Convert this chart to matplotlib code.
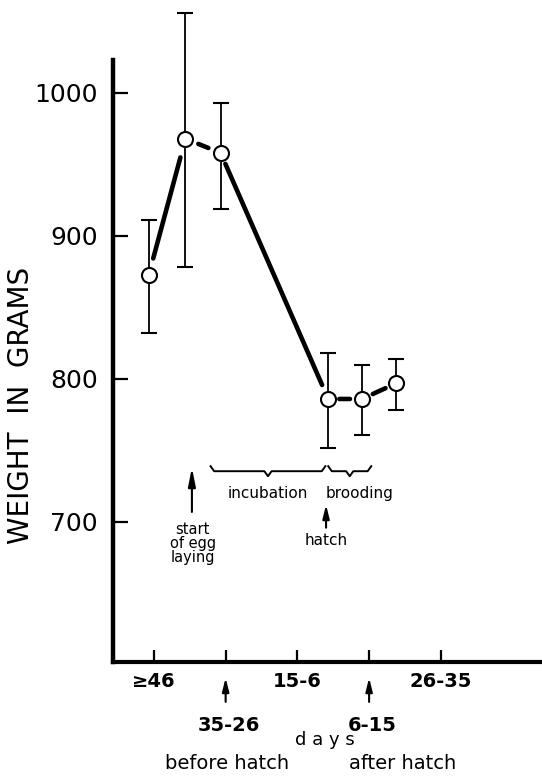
import matplotlib.pyplot as plt

# weight of birds through the breeding cycle
x_pos = [-0.07, 0.44, 0.93, 2.43, 2.90, 3.38]
weight = [873, 968, 958, 786, 786, 797]
err_low = [832, 878, 919, 752, 761, 778]
err_high = [911, 1056, 993, 818, 810, 814]

tick_pos = [0, 1, 2, 3, 4]
tick_top = ['≥46', '', '15-6', '', '26-35']
tick_low = {1: '35-26', 3: '6-15'}
y_ticks = [700, 800, 900, 1000]

# how far (points) each connecting segment stops short of the circles
gap_a = [12, 10, 8.6, 8, 8.6]
gap_b = [14, 9.5, 11, 8.6, 8.6]

# event spans shown with braces (x in tick units)
incubation = (0.79, 2.39)
brooding = (2.43, 3.03)
egg_laying_x = 0.53
hatch_x = 2.40

fig = plt.figure(figsize=(5.42, 7.79), dpi=100)
ax = fig.add_axes([0.2085, 0.150, 0.7875, 0.773])
ax.set_xlim(-0.57, 5.38)
ax.set_ylim(602, 1023)

for s in ['top', 'right']:
    ax.spines[s].set_visible(False)
ax.spines['left'].set_linewidth(3.2)
ax.spines['bottom'].set_linewidth(3.0)

ax.set_yticks(y_ticks)
ax.set_yticklabels([str(v) for v in y_ticks])
ax.tick_params(axis='y', direction='in', length=11, width=1.6, pad=11, labelsize=18)
ax.set_xticks(tick_pos)
ax.set_xticklabels(tick_top, fontweight='bold')
ax.tick_params(axis='x', direction='in', length=9, width=1.6, pad=7, labelsize=14)

# error bars
lo = [w - l for w, l in zip(weight, err_low)]
hi = [h - w for w, h in zip(weight, err_high)]
ax.errorbar(x_pos, weight, yerr=[lo, hi], fmt='none', ecolor='black',
            elinewidth=1.3, capsize=6, capthick=1.5, zorder=2, clip_on=False)

# thick connecting segments with gaps
for i in range(len(x_pos) - 1):
    ax.annotate('', xy=(x_pos[i + 1], weight[i + 1]), xytext=(x_pos[i], weight[i]),
                arrowprops=dict(arrowstyle='-', lw=3.3, color='black',
                                shrinkA=gap_a[i], shrinkB=gap_b[i]), zorder=3)

ax.plot(x_pos, weight, 'o', ms=10.8, mfc='white', mec='black', mew=1.5, zorder=4)

arrow_big = dict(arrowstyle='-|>,head_width=0.22,head_length=1.1', lw=1.5,
                 color='black', shrinkA=0, shrinkB=0)
arrow_small = dict(arrowstyle='-|>,head_width=0.2,head_length=0.8', lw=1.5,
                   color='black', shrinkA=0, shrinkB=0)

# lower x labels with small arrows
trans = ax.get_xaxis_transform()
for xp, lab in tick_low.items():
    ax.annotate('', xy=(xp, -0.026), xytext=(xp, -0.066), xycoords=trans,
                arrowprops=arrow_small)
    ax.text(xp + 0.04, -0.105, lab, transform=trans, ha='center', va='center',
            fontsize=14, fontweight='bold')

ax.text(2.38, -0.130, 'd a y s', transform=trans, ha='center', va='center', fontsize=13)
ax.text(1.02, -0.168, 'before hatch', transform=trans, ha='center', va='center', fontsize=14)
ax.text(3.47, -0.168, 'after hatch', transform=trans, ha='center', va='center', fontsize=14)


def brace(x0, x1, y, h=3.5, e=0.05):
    xm = (x0 + x1) / 2
    xs = [x0, x0 + e, xm - e, xm, xm + e, x1 - e, x1]
    ys = [y + h, y, y, y - h, y, y, y + h]
    ax.plot(xs, ys, color='black', lw=1.4)


brace(incubation[0], incubation[1], 735.5)
brace(brooding[0], brooding[1], 735.5)
ax.text(sum(incubation) / 2, 720, 'incubation', ha='center', va='center', fontsize=11)
ax.text(sum(brooding) / 2 + 0.14, 720, 'brooding', ha='center', va='center', fontsize=11)

ax.annotate('', xy=(egg_laying_x, 738), xytext=(egg_laying_x, 707), arrowprops=arrow_big)
ax.text(egg_laying_x + 0.01, 685, 'start\nof egg\nlaying', ha='center', va='center',
        fontsize=10.5, linespacing=0.95)
ax.annotate('', xy=(hatch_x, 712), xytext=(hatch_x, 696), arrowprops=arrow_small)
ax.text(hatch_x, 687, 'hatch', ha='center', va='center', fontsize=11)

fig.text(0.039, 0.48, 'WEIGHT  IN  GRAMS', rotation=90, ha='center', va='center', fontsize=20)

fig.savefig('out.png', dpi=100)
